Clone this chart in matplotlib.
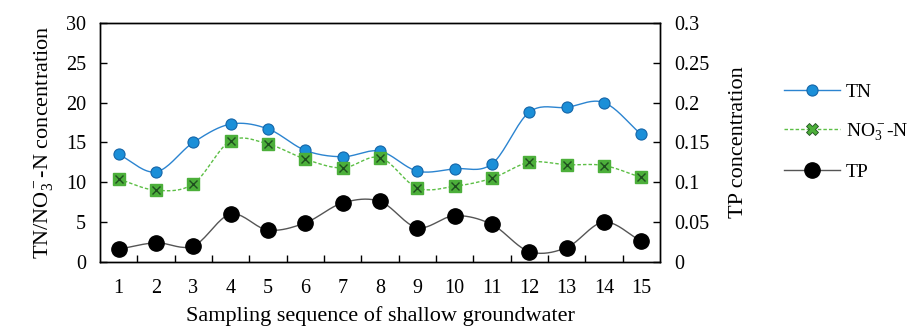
import numpy as np
import matplotlib
matplotlib.use("Agg")
import matplotlib.pyplot as plt

# Data
samples = list(range(1, 16))
tn = [13.5, 11.3, 15.0, 17.3, 16.7, 14.0, 13.2, 13.9, 11.4, 11.7, 12.3, 18.8, 19.4, 20.0, 16.0]
no3 = [10.4, 9.0, 9.8, 15.2, 14.8, 12.9, 11.8, 13.1, 9.3, 9.5, 10.5, 12.5, 12.2, 12.1, 10.6]
tp = [0.016, 0.024, 0.020, 0.060, 0.040, 0.049, 0.074, 0.076, 0.043, 0.058, 0.047, 0.013, 0.018, 0.050, 0.026]


def smooth(x, y, n=20):
    # Catmull-Rom curve through the points (like Excel's smoothed line)
    x = np.asarray(x, float)
    y = np.asarray(y, float)
    px = np.concatenate([[2 * x[0] - x[1]], x, [2 * x[-1] - x[-2]]])
    py = np.concatenate([[2 * y[0] - y[1]], y, [2 * y[-1] - y[-2]]])
    xs, ys = [], []
    t = np.linspace(0, 1, n, endpoint=False)
    for i in range(1, len(px) - 2):
        for p, out in ((px, xs), (py, ys)):
            p0, p1, p2, p3 = p[i - 1], p[i], p[i + 1], p[i + 2]
            c1 = p1 + (p2 - p0) / 6
            c2 = p2 - (p3 - p1) / 6
            out.extend((1 - t) ** 3 * p1 + 3 * (1 - t) ** 2 * t * c1
                       + 3 * (1 - t) * t ** 2 * c2 + t ** 3 * p2)
    xs.append(x[-1])
    ys.append(y[-1])
    return np.array(xs), np.array(ys)


plt.rcParams["font.family"] = ["Liberation Serif", "DejaVu Serif"]
plt.rcParams["mathtext.fontset"] = "custom"
plt.rcParams["mathtext.rm"] = "Liberation Serif"
plt.rcParams["mathtext.it"] = "Liberation Serif:italic"

tn_line = "#2b84d0"
tn_fill = "#1b8fd8"
tn_edge = "#1565a8"
no3_line = "#5cbf45"
no3_fill = "#4caf3a"
no3_x = "#1f4f1f"
tp_line = "#555555"

fig = plt.figure(figsize=(9.09, 3.27), dpi=100)
ax = fig.add_axes([0.110, 0.199, 0.616, 0.731])
ax2 = ax.twinx()

# TN
sx, sy = smooth(samples, tn)
ax.plot(sx, sy, color=tn_line, lw=1.0, zorder=3)
ax.plot(samples, tn, ls="none", marker="o", ms=8, mfc=tn_fill, mec=tn_edge,
        mew=0.8, zorder=4)

# NO3-N
sx, sy = smooth(samples, no3)
ax.plot(sx, sy, color=no3_line, lw=1.0, ls=(0, (2.5, 1.5)), zorder=3)
ax.plot(samples, no3, ls="none", marker="s", ms=8, mfc=no3_fill, mec=no3_fill,
        zorder=4)
ax.plot(samples, no3, ls="none", marker="x", ms=6, mec=no3_x, mew=1.0, zorder=5)

# TP on right axis
sx, sy = smooth(samples, tp)
ax2.plot(sx, sy, color=tp_line, lw=1.0, zorder=3)
ax2.plot(samples, tp, ls="none", marker="o", ms=11, mfc="black", mec="black",
         zorder=4)

ax.set_xlim(0.5, 15.5)
ax.set_ylim(0, 30)
ax2.set_ylim(0, 0.3)
ax.set_yticks(np.arange(0, 31, 5))
ax2.set_yticks(np.arange(0, 0.31, 0.05))
ax2.set_yticklabels(["0", "0.05", "0.1", "0.15", "0.2", "0.25", "0.3"])

ax.set_xticks(np.arange(1.5, 15, 1))
ax.set_xticklabels([])
ax.set_xticks(samples, minor=True)
ax.set_xticklabels([str(s) for s in samples], minor=True)
ax.tick_params(axis="x", which="major", direction="in", length=5, width=1)
ax.tick_params(axis="x", which="minor", length=0, pad=12, labelsize=14.5)
ax.tick_params(axis="y", direction="in", length=5, width=1, labelsize=14.5, pad=10)
ax2.tick_params(axis="y", direction="in", length=5, width=1, labelsize=14.5, pad=10)

for a in (ax, ax2):
    for s in a.spines.values():
        s.set_linewidth(1.0)
        s.set_color("black")

ax.set_xlabel("Sampling sequence of shallow groundwater", fontsize=16, labelpad=6)
ax.set_ylabel("TN/NO$_3^-$-N concentration", fontsize=16, labelpad=8)
ax2.set_ylabel("TP concentration", fontsize=16, labelpad=14)

h_tn, = ax.plot([], [], color=tn_line, lw=1.0, marker="o", ms=8, mfc=tn_fill,
                mec=tn_edge, mew=0.8)
h_no3, = ax.plot([], [], color=no3_line, lw=1.0, ls=(0, (2.5, 1.5)), marker="X",
                 ms=8, mfc=no3_fill, mec=no3_x, mew=0.6)
h_tp, = ax2.plot([], [], color=tp_line, lw=1.0, marker="o", ms=11, mfc="black",
                 mec="black")
fig.legend([h_tn, h_no3, h_tp], ["TN", "NO$_3^-$-N", "TP"],
           loc="upper left", bbox_to_anchor=(0.858, 0.758), frameon=False,
           fontsize=14, handlelength=2.9, labelspacing=1.05, handletextpad=0.3,
           borderaxespad=0, borderpad=0.2)

fig.savefig("out.png", dpi=100)
